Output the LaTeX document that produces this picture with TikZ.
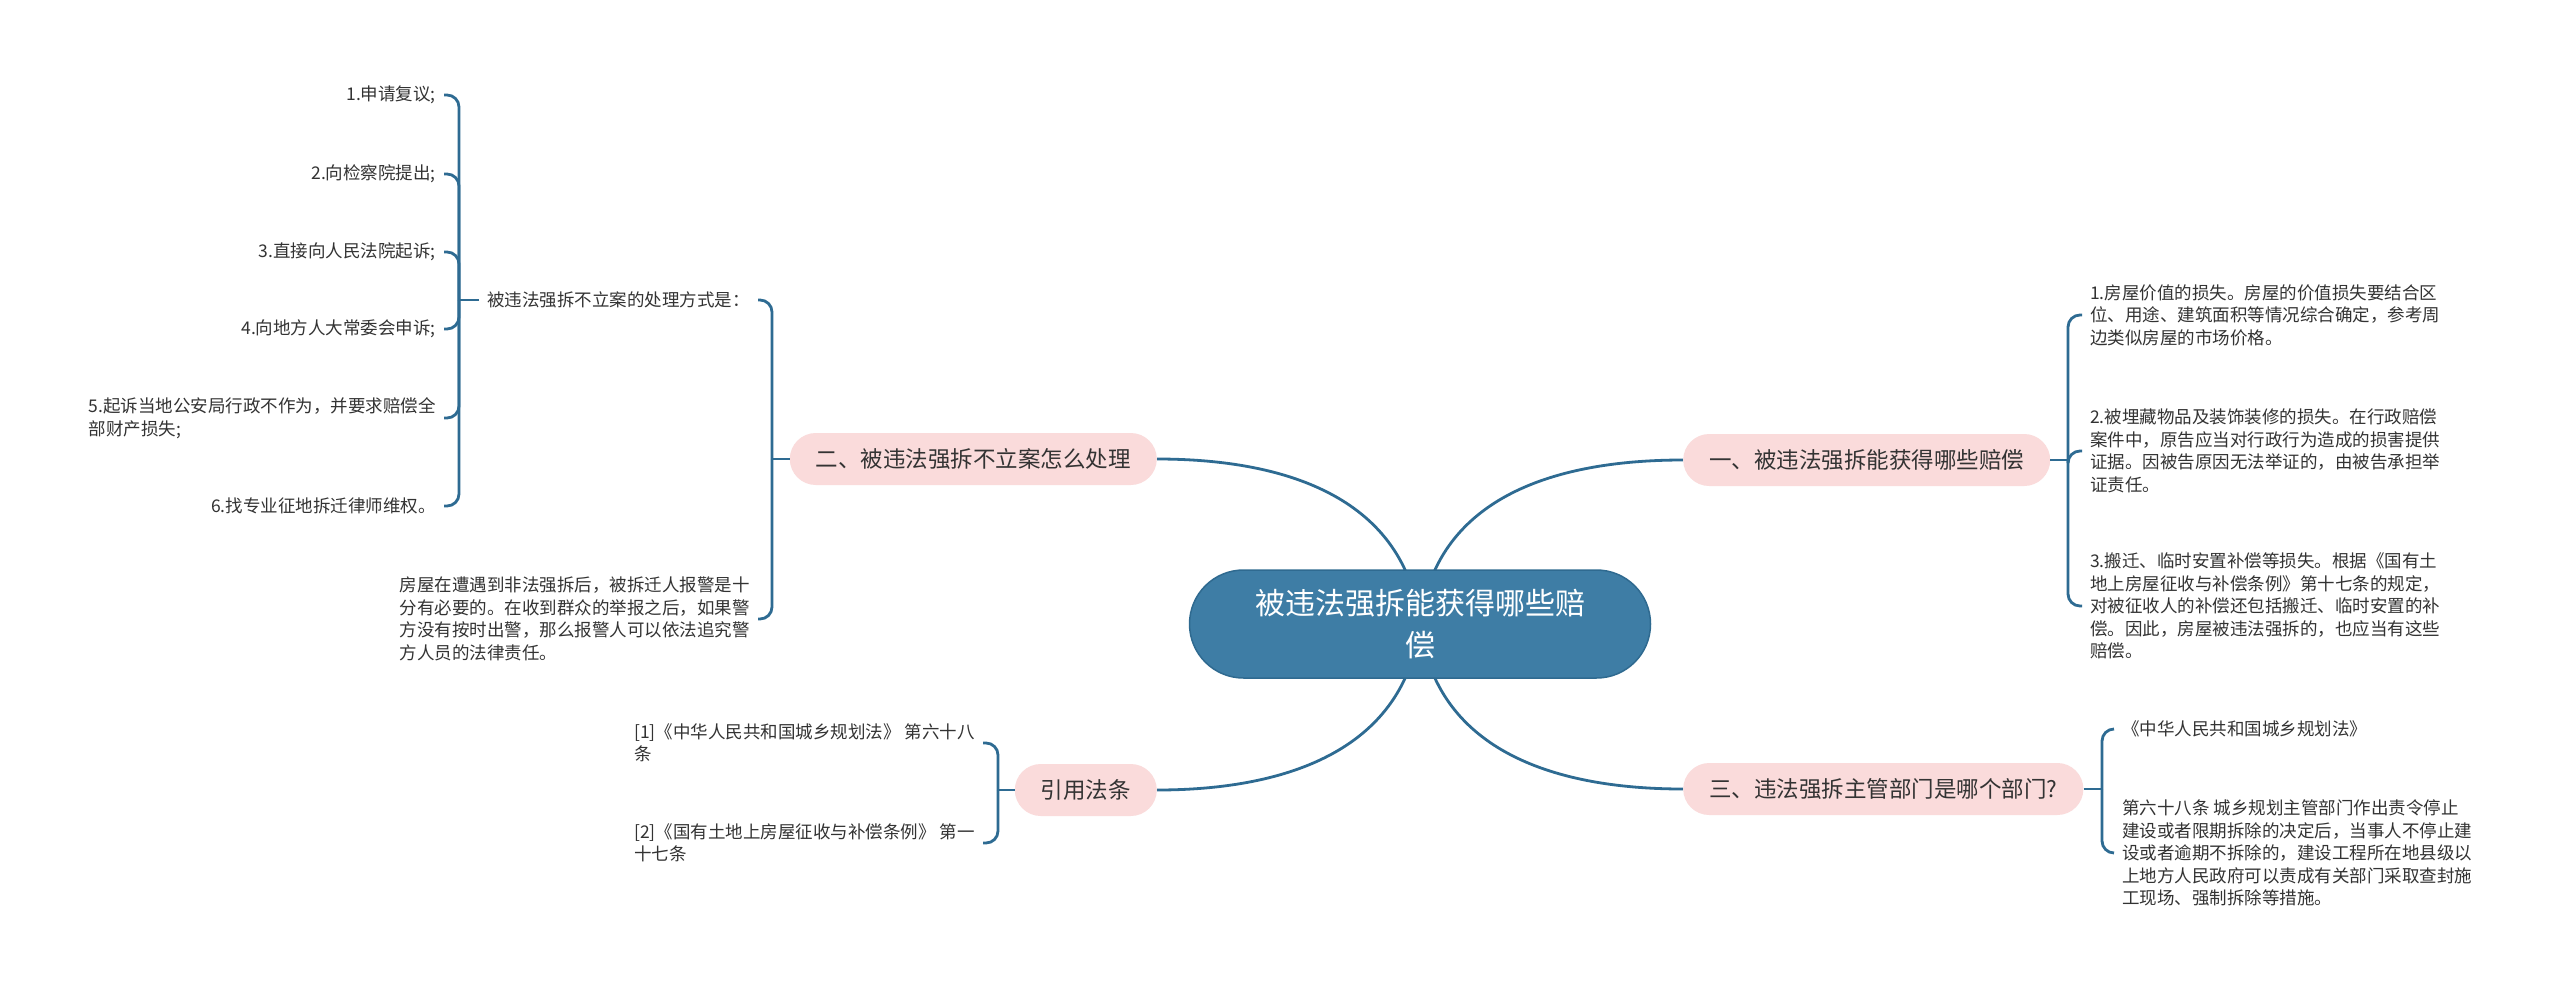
\documentclass[tikz,border=0pt]{standalone}
\usepackage{fontspec}
\setmainfont{Noto Sans CJK SC}
\usetikzlibrary{backgrounds}
\definecolor{lc}{HTML}{2E6B92}
\definecolor{cb}{HTML}{3E7DA5}
\definecolor{cbd}{HTML}{2F6A90}
\definecolor{pk}{HTML}{FADBDB}
\definecolor{tc}{HTML}{333333}
\begin{document}
\begin{tikzpicture}[x=1pt,y=-1pt,
  conn/.style={draw=lc,line width=2.8pt},
  elbow/.style={conn,rounded corners=12pt},
  leaf/.style={font=\fontsize{17.5}{22.5}\selectfont,text=tc,inner xsep=8pt,inner ysep=2pt,align=left},
  pill/.style={fill=pk,rounded corners=26pt,minimum height=52pt,inner xsep=26pt,inner ysep=0pt,font=\fontsize{22.5}{27}\selectfont,text=tc},
  hub/.style={fill=cb,draw=cbd,line width=1.5pt,rounded corners=54pt,minimum width=461pt,minimum height=108pt,align=center,text=white,font=\fontsize{30}{42}\selectfont}]
\useasboundingbox (0,0) rectangle (2560,991);

% central topic
\node[hub] (c) at (1420,624) {被违法强拆能获得哪些赔\\偿};

% main branches
\node[pill,anchor=east] (p2) at (1157,459) {二、被违法强拆不立案怎么处理};
\node[pill,anchor=west] (p1) at (1683,460) {一、被违法强拆能获得哪些赔偿};
\node[pill,anchor=west] (p3) at (1683,789) {三、违法强拆主管部门是哪个部门?};
\node[pill,anchor=east] (p5) at (1157,790) {引用法条};

\begin{pgfonlayer}{background}
\fill[white] (0,0) rectangle (2560,991);
\draw[conn] (c.center) .. controls (1405,500) and (1290,459) .. (p2.east);
\draw[conn] (c.center) .. controls (1435,500) and (1550,460) .. (p1.west);
\draw[conn] (c.center) .. controls (1405,748) and (1290,790) .. (p5.east);
\draw[conn] (c.center) .. controls (1435,748) and (1550,789) .. (p3.west);
\end{pgfonlayer}

% ---- branch 二 ----
\coordinate (b2) at (772,459);
\node[leaf,anchor=east] (sub) at (758,300) {被违法强拆不立案的处理方式是：};
\node[leaf,anchor=east] (h) at (758,619) {房屋在遭遇到非法强拆后，被拆迁人报警是十\\分有必要的。在收到群众的举报之后，如果警\\方没有按时出警，那么报警人可以依法追究警\\方人员的法律责任。};
\draw[conn] (p2.west) -- (b2);
\draw[elbow] (b2) |- (sub.east);
\draw[elbow] (b2) |- (h.east);

\coordinate (b1) at (459,300);
\node[leaf,anchor=east] (e1) at (444,95) {1.申请复议;};
\node[leaf,anchor=east] (e2) at (444,174) {2.向检察院提出;};
\node[leaf,anchor=east] (e3) at (444,252) {3.直接向人民法院起诉;};
\node[leaf,anchor=east] (e4) at (444,329) {4.向地方人大常委会申诉;};
\node[leaf,anchor=east] (e5) at (444,418) {5.起诉当地公安局行政不作为，并要求赔偿全\\部财产损失;};
\node[leaf,anchor=east] (e6) at (444,506) {6.找专业征地拆迁律师维权。};
\draw[conn] (sub.west) -- (b1);
\foreach \n in {e1,e2,e3,e4,e5,e6} {\draw[elbow] (b1) |- (\n.east);}

% ---- branch 一 ----
\coordinate (b3) at (2068,460);
\node[leaf,anchor=west] (r1) at (2082,315) {1.房屋价值的损失。房屋的价值损失要结合区\\位、用途、建筑面积等情况综合确定，参考周\\边类似房屋的市场价格。};
\node[leaf,anchor=west] (r2) at (2082,451) {2.被埋藏物品及装饰装修的损失。在行政赔偿\\案件中，原告应当对行政行为造成的损害提供\\证据。因被告原因无法举证的，由被告承担举\\证责任。};
\node[leaf,anchor=west] (r3) at (2082,606) {3.搬迁、临时安置补偿等损失。根据《国有土\\地上房屋征收与补偿条例》第十七条的规定，\\对被征收人的补偿还包括搬迁、临时安置的补\\偿。因此，房屋被违法强拆的，也应当有这些\\赔偿。};
\draw[conn] (p1.east) -- (b3);
\foreach \n in {r1,r2,r3} {\draw[elbow] (b3) |- (\n.west);}

% ---- branch 三 ----
\coordinate (b4) at (2102,789);
\node[leaf,anchor=west] (t1) at (2114,729) {《中华人民共和国城乡规划法》};
\node[leaf,anchor=west] (t2) at (2114,853) {第六十八条 城乡规划主管部门作出责令停止\\建设或者限期拆除的决定后，当事人不停止建\\设或者逾期不拆除的，建设工程所在地县级以\\上地方人民政府可以责成有关部门采取查封施\\工现场、强制拆除等措施。};
\draw[conn] (p3.east) -- (b4);
\foreach \n in {t1,t2} {\draw[elbow] (b4) |- (\n.west);}

% ---- 引用法条 ----
\coordinate (b5) at (998,790);
\node[leaf,anchor=east] (q1) at (983,743) {[1]《中华人民共和国城乡规划法》 第六十八\\条};
\node[leaf,anchor=east] (q2) at (983,843) {[2]《国有土地上房屋征收与补偿条例》 第一\\十七条};
\draw[conn] (p5.west) -- (b5);
\foreach \n in {q1,q2} {\draw[elbow] (b5) |- (\n.east);}
\end{tikzpicture}
\end{document}
